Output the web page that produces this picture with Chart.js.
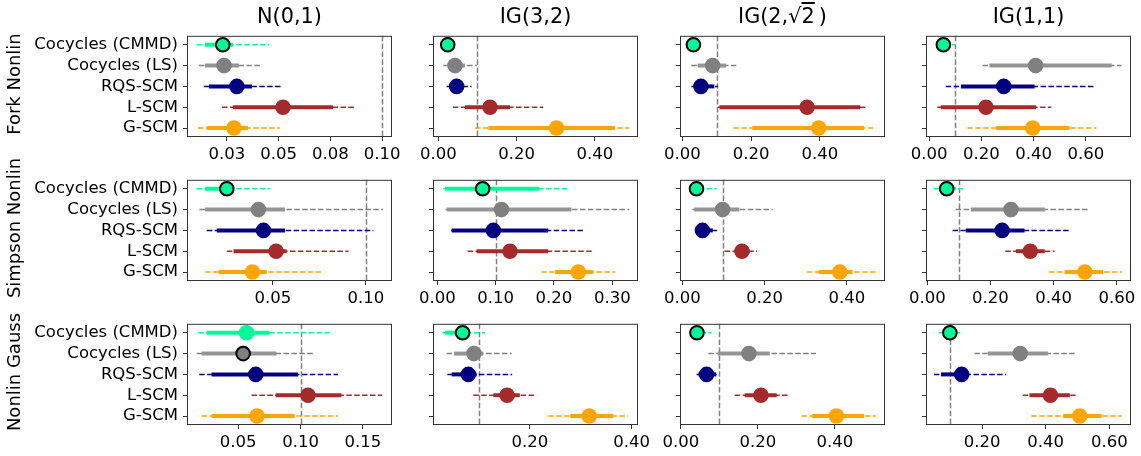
<!DOCTYPE html>
<html>
<head>
<meta charset="utf-8">
<script src="https://cdn.jsdelivr.net/npm/chart.js@4.4.1/dist/chart.umd.min.js"></script>
<style>
  body { margin: 0; background: #fff; }
  #wrap { position: relative; width: 1141px; height: 456px; overflow: hidden; font-family: 'DejaVu Sans', sans-serif; }
  #wrap canvas { position: absolute; }
  .col-title { position: absolute; top: 4px; width: 240px; margin-left: -120px; text-align: center;
    font-size: 20.8px; line-height: 24px; color: #000; white-space: nowrap; }
  .row-title { position: absolute; width: 200px; height: 22px; line-height: 22px; text-align: center;
    font-size: 18px; color: #000; white-space: nowrap; transform: translate(-50%, -50%) rotate(-90deg); }
</style>
</head>
<body>
<div id="wrap"></div>
<script>
// methods and panel labels
const methods = ['Cocycles (CMMD)', 'Cocycles (LS)', 'RQS-SCM', 'L-SCM', 'G-SCM'];
const columnTitles = ['N(0,1)', 'IG(3,2)', 'IG(2,\u221A<span style="text-decoration:overline">2</span>\u2009)', 'IG(1,1)'];
const rowTitles = ['Fork Nonlin', 'Simpson Nonlin', 'Nonlin Gauss'];
const refValue = 0.1;

// one entry per panel, row by row; inside, one value per method
const medians = [
  [0.023, 0.0236, 0.0298, 0.0521, 0.0284],
  [0.024, 0.0426, 0.0468, 0.132, 0.302],
  [0.032, 0.088, 0.054, 0.363, 0.397],
  [0.055, 0.408, 0.286, 0.218, 0.397],
  [0.0253, 0.0423, 0.045, 0.0518, 0.0391],
  [0.0777, 0.110, 0.096, 0.1246, 0.2417],
  [0.0344, 0.098, 0.049, 0.145, 0.383],
  [0.0616, 0.265, 0.237, 0.326, 0.499],
  [0.0567, 0.054, 0.0641, 0.106, 0.0652],
  [0.0675, 0.0898, 0.0787, 0.155, 0.3167],
  [0.042, 0.177, 0.067, 0.208, 0.404],
  [0.099, 0.32, 0.136, 0.415, 0.507]
];
const innerLow = [
  [0.0144, 0.0144, 0.0163, 0.0279, 0.0153],
  [0.018, 0.0255, 0.030, 0.068, 0.128],
  [0.025, 0.044, 0.034, 0.108, 0.204],
  [0.033, 0.231, 0.122, 0.045, 0.256],
  [0.0136, 0.0136, 0.0199, 0.0289, 0.0208],
  [0.0131, 0.016, 0.0246, 0.0674, 0.2017],
  [0.0287, 0.0287, 0.037, 0.127, 0.332],
  [0.037, 0.138, 0.122, 0.281, 0.435],
  [0.0247, 0.0207, 0.0287, 0.080, 0.0287],
  [0.0328, 0.0505, 0.046, 0.128, 0.279],
  [0.0306, 0.096, 0.046, 0.166, 0.341],
  [0.081, 0.218, 0.071, 0.349, 0.455]
];
const innerHigh = [
  [0.028, 0.0308, 0.0371, 0.0763, 0.0352],
  [0.030, 0.068, 0.064, 0.183, 0.451],
  [0.040, 0.127, 0.093, 0.518, 0.529],
  [0.080, 0.699, 0.404, 0.41, 0.538],
  [0.0271, 0.0566, 0.0566, 0.0575, 0.0468],
  [0.175, 0.230, 0.190, 0.190, 0.267],
  [0.045, 0.139, 0.074, 0.164, 0.414],
  [0.090, 0.372, 0.308, 0.372, 0.557],
  [0.0753, 0.0807, 0.098, 0.1327, 0.0953],
  [0.0787, 0.108, 0.095, 0.180, 0.364],
  [0.060, 0.231, 0.092, 0.249, 0.476],
  [0.123, 0.407, 0.149, 0.476, 0.576]
];
const outerLow = [
  [0.0105, 0.0115, 0.0139, 0.0226, 0.011],
  [0.015, 0.0128, 0.021, 0.037, 0.094],
  [0.022, 0.026, 0.026, 0.103, 0.149],
  [0.026, 0.205, 0.064, 0.032, 0.147],
  [0.0091, 0.0106, 0.0145, 0.0253, 0.0136],
  [0.0103, 0.0143, 0.0234, 0.052, 0.178],
  [0.0205, 0.0246, 0.033, 0.1025, 0.303],
  [0.021, 0.090, 0.080, 0.247, 0.385],
  [0.018, 0.0167, 0.0188, 0.0607, 0.0207],
  [0.0275, 0.036, 0.0374, 0.0885, 0.236],
  [0.0306, 0.0716, 0.041, 0.14, 0.314],
  [0.065, 0.176, 0.049, 0.328, 0.355]
];
const outerHigh = [
  [0.0453, 0.0414, 0.0516, 0.0864, 0.0506],
  [0.033, 0.098, 0.085, 0.268, 0.488],
  [0.043, 0.157, 0.103, 0.541, 0.564],
  [0.103, 0.737, 0.635, 0.468, 0.641],
  [0.0486, 0.1093, 0.1041, 0.0907, 0.0763],
  [0.226, 0.329, 0.251, 0.266, 0.305],
  [0.0836, 0.22, 0.086, 0.182, 0.474],
  [0.1136, 0.515, 0.451, 0.403, 0.616],
  [0.1233, 0.1113, 0.130, 0.1655, 0.130],
  [0.1115, 0.164, 0.165, 0.213, 0.393],
  [0.080, 0.351, 0.093, 0.278, 0.507],
  [0.134, 0.497, 0.276, 0.497, 0.639]
];
// best method per panel (drawn with a black edge)
const bestMethod = [0, 0, 0, 0, 0, 0, 0, 0, 1, 0, 0, 0];

// x axis range and ticks per panel
const xMin = [0.0057, -0.0136, -0.007, -0.0115, 0.0039, -0.0074, -0.0057, -0.004, 0.009, 0.0092, -0.002, 0.024];
const xMax = [0.1048, 0.510, 0.590, 0.773, 0.1141, 0.344, 0.493, 0.645, 0.1733, 0.4126, 0.530, 0.668];
const tickValues = [
  [0.025, 0.05, 0.075, 0.1], [0, 0.2, 0.4], [0, 0.2, 0.4], [0, 0.2, 0.4, 0.6],
  [0.05, 0.1], [0, 0.1, 0.2, 0.3], [0, 0.2, 0.4], [0, 0.2, 0.4, 0.6],
  [0.05, 0.1, 0.15], [0.2, 0.4], [0, 0.2, 0.4], [0.2, 0.4, 0.6]
];
const tickLabels = [
  ['0.03', '0.05', '0.08', '0.10'], ['0.00', '0.20', '0.40'], ['0.00', '0.20', '0.40'], ['0.00', '0.20', '0.40', '0.60'],
  ['0.05', '0.10'], ['0.00', '0.10', '0.20', '0.30'], ['0.00', '0.20', '0.40'], ['0.00', '0.20', '0.40', '0.60'],
  ['0.05', '0.10', '0.15'], ['0.20', '0.40'], ['0.00', '0.20', '0.40'], ['0.20', '0.40', '0.60']
];

const methodColors = ['#00FA9A', '#808080', '#000080', '#A52A2A', '#FFA500'];
const innerColors = ['#00FA9A', '#959595', '#000080', '#A52A2A', '#FFA500'];

// layout of the grid (plot areas in page pixels)
const plotLeft = [187, 433, 680, 926];
const plotTop = [30, 174, 318];
const PW = 205, PH = 107, XH = 30, PAD_T = 3, PAD_R = 26;
const tickFont = { family: 'DejaVu Sans', size: 16.5 };

const panelDecor = {
  id: 'panelDecor',
  beforeDatasetsDraw(chart) {
    const a = chart.chartArea, ctx = chart.ctx;
    const x = Math.round(chart.scales.x.getPixelForValue(refValue)) + 0.5;
    ctx.save();
    ctx.strokeStyle = '#808080';
    ctx.lineWidth = 1.5;
    ctx.setLineDash([5.5, 2.4]);
    ctx.beginPath();
    ctx.moveTo(x, a.top);
    ctx.lineTo(x, a.bottom);
    ctx.stroke();
    ctx.restore();
  },
  afterDatasetsDraw(chart) {
    const a = chart.chartArea, ctx = chart.ctx;
    ctx.save();
    ctx.strokeStyle = '#333';
    ctx.lineWidth = 1;
    ctx.strokeRect(a.left + 0.5, a.top + 0.5, a.right - a.left - 1, a.bottom - a.top - 1);
    ctx.restore();
  }
};

const wrap = document.getElementById('wrap');

function makePanel(r, c) {
  const p = r * 4 + c;
  const yW = c === 0 ? 187 : 24;
  const cv = document.createElement('canvas');
  cv.width = yW + PW + PAD_R;
  cv.height = PAD_T + PH + XH;
  cv.style.left = (plotLeft[c] - yW) + 'px';
  cv.style.top = (plotTop[r] - PAD_T) + 'px';
  wrap.appendChild(cv);

  const datasets = [];
  methods.forEach((m, i) => {
    const best = bestMethod[p] === i;
    datasets.push({
      data: [{ x: medians[p][i], y: i }],
      pointRadius: best ? 6.8 : 7.8,
      backgroundColor: methodColors[i],
      borderColor: best ? '#000' : methodColors[i],
      borderWidth: best ? 2 : 0,
      order: 0, clip: false
    });
    datasets.push({
      data: [{ x: innerLow[p][i], y: i }, { x: innerHigh[p][i], y: i }],
      showLine: true, pointRadius: 0, borderColor: innerColors[i], borderWidth: 4,
      borderCapStyle: 'butt', order: 1, clip: false
    });
    datasets.push({
      data: [{ x: outerLow[p][i], y: i }, { x: outerHigh[p][i], y: i }],
      showLine: true, pointRadius: 0, borderColor: methodColors[i], borderWidth: 1.5,
      borderDash: [5.5, 2.4], order: 2, clip: false
    });
  });

  new Chart(cv, {
    type: 'scatter',
    data: { datasets },
    options: {
      responsive: false,
      animation: false,
      devicePixelRatio: 1,
      events: [],
      layout: { padding: { top: PAD_T, right: PAD_R, left: 0, bottom: 0 } },
      plugins: { legend: { display: false }, tooltip: { enabled: false } },
      scales: {
        x: {
          type: 'linear', min: xMin[p], max: xMax[p],
          afterBuildTicks: s => { s.ticks = tickValues[p].map(v => ({ value: v })); },
          afterFit: s => { s.height = XH; s.paddingLeft = 0; s.paddingRight = 0; },
          ticks: { callback: (v, i) => tickLabels[p][i], font: tickFont, color: '#000', padding: 4, maxRotation: 0, autoSkip: false },
          grid: { drawOnChartArea: false, drawTicks: true, tickLength: 4, color: '#333', lineWidth: 1 },
          border: { display: false }
        },
        y: {
          type: 'linear', reverse: true, min: -0.43, max: 4.43,
          afterBuildTicks: s => { s.ticks = methods.map((m, i) => ({ value: i })); },
          afterFit: s => { s.width = yW; s.paddingTop = 0; s.paddingBottom = 0; },
          ticks: { callback: (v, i) => (c === 0 ? methods[i] : ''), font: tickFont, color: '#000', padding: 5, autoSkip: false },
          grid: { drawOnChartArea: false, drawTicks: true, tickLength: 4, color: '#333', lineWidth: 1 },
          border: { display: false }
        }
      }
    },
    plugins: [panelDecor]
  });
}

for (let r = 0; r < 3; r++) {
  for (let c = 0; c < 4; c++) makePanel(r, c);
}

columnTitles.forEach((t, c) => {
  const d = document.createElement('div');
  d.className = 'col-title';
  d.innerHTML = t;
  d.style.left = (plotLeft[c] + PW / 2) + 'px';
  wrap.appendChild(d);
});
rowTitles.forEach((t, r) => {
  const d = document.createElement('div');
  d.className = 'row-title';
  d.textContent = t;
  d.style.left = '14px';
  d.style.top = (plotTop[r] + PH / 2) + 'px';
  wrap.appendChild(d);
});
</script>
</body>
</html>
